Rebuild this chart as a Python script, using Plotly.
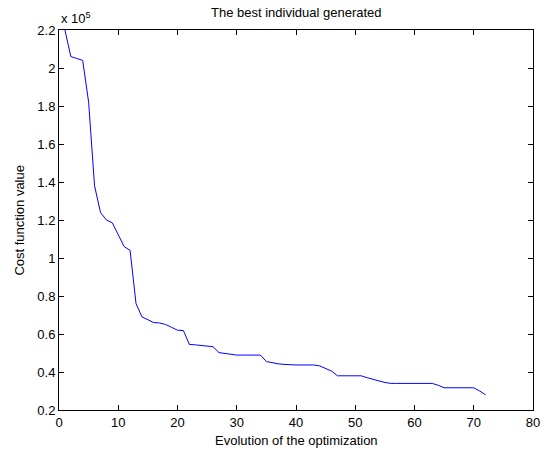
import numpy as np
import plotly.graph_objects as go

generations = list(range(1, 73))
cost_e5 = [2.20, 2.06, 2.05, 2.04, 1.82, 1.38, 1.24, 1.20, 1.185, 1.12,
           1.06, 1.04, 0.76, 0.69, 0.675, 0.66, 0.658, 0.65, 0.635, 0.62,
           0.618, 0.545, 0.543, 0.54, 0.537, 0.533, 0.502, 0.498, 0.492, 0.489,
           0.489, 0.489, 0.489, 0.489, 0.455, 0.448, 0.443, 0.44, 0.437, 0.437,
           0.437, 0.437, 0.437, 0.432, 0.42, 0.405, 0.38, 0.38, 0.38, 0.38,
           0.38, 0.37, 0.36, 0.353, 0.345, 0.34, 0.34, 0.34, 0.34, 0.34,
           0.34, 0.34, 0.34, 0.33, 0.317, 0.317, 0.317, 0.317, 0.317, 0.317,
           0.30, 0.28]
y_ticks = [0.2, 0.4, 0.6, 0.8, 1.0, 1.2, 1.4, 1.6, 1.8, 2.0, 2.2]
y_tick_labels = ["0.2", "0.4", "0.6", "0.8", "1", "1.2", "1.4", "1.6", "1.8", "2", "2.2"]
x_ticks = [0, 10, 20, 30, 40, 50, 60, 70, 80]

scale = 1e5
FONT = "Liberation Sans, Arial, sans-serif"

fig = go.Figure()
fig.add_trace(go.Scatter(
    x=generations, y=np.array(cost_e5) * scale, mode="lines",
    line=dict(color="rgb(0,0,255)", width=1), showlegend=False,
))

axis_common = dict(
    showgrid=False, zeroline=False, showline=True, linecolor="black", linewidth=1,
    mirror="ticks", ticks="inside", ticklen=5, tickcolor="black", tickwidth=1,
    tickfont=dict(family=FONT, size=13, color="black"),
    ticklabeloverflow="allow",
)
fig.update_xaxes(range=[0, 80], tickvals=x_ticks, **axis_common)
fig.update_yaxes(range=[0.2 * scale, 2.2 * scale],
                 tickvals=[v * scale for v in y_ticks], ticktext=y_tick_labels,
                 **axis_common)

fig.update_layout(
    width=546, height=450,
    margin=dict(l=59, r=6, t=30, b=40),
    paper_bgcolor="white", plot_bgcolor="white",
    font=dict(family=FONT, size=13, color="black"),
    annotations=[
        dict(text="The best individual generated", xref="paper", yref="paper",
             x=0.5, y=(410 - 12) / 380, xanchor="center", yanchor="middle",
             showarrow=False, font=dict(size=13)),
        dict(text="Evolution of the optimization", xref="paper", yref="paper",
             x=0.5, y=(410 - 440) / 380, xanchor="center", yanchor="middle",
             showarrow=False, font=dict(size=13)),
        dict(text="Cost function value", xref="paper", yref="paper",
             x=(18 - 59) / 481, y=0.5, xanchor="center", yanchor="middle",
             textangle=-90, showarrow=False, font=dict(size=13)),
        dict(text="x 10<sup>5</sup>", xref="paper", yref="paper",
             x=0.0, y=(410 - 18) / 380, xanchor="left", yanchor="middle",
             showarrow=False, font=dict(size=13)),
    ],
)

fig.write_html(
    "out.html",
    config={"displayModeBar": False},
    post_script="document.body.style.margin='0';document.body.style.overflow='hidden';",
)
